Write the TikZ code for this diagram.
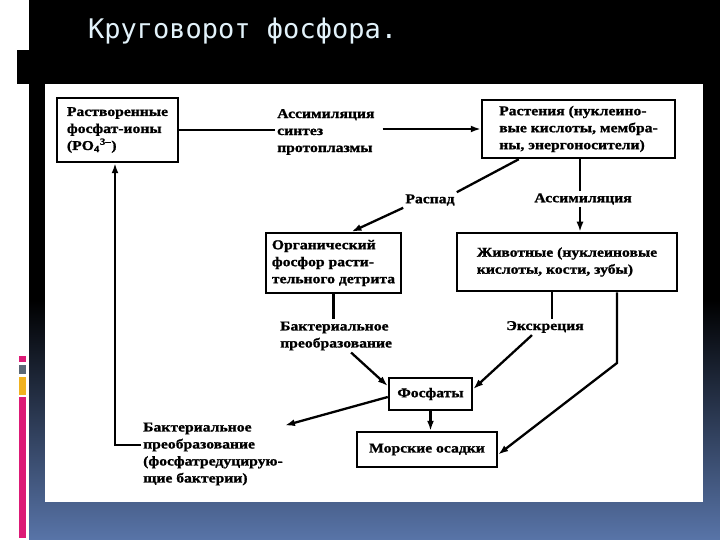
\documentclass[tikz,border=0pt]{standalone}
\usepackage{fontspec}
\usetikzlibrary{arrows.meta}
\newfontfamily\dfont[FakeStretch=1.16,FakeBold=1.2]{Liberation Serif}
\newfontfamily\tfont{DejaVu Sans Mono}
\definecolor{slideblue}{RGB}{88,116,168}
\definecolor{titlecol}{RGB}{226,242,250}
\definecolor{barpink}{RGB}{220,26,118}
\definecolor{bargray}{RGB}{90,104,118}
\definecolor{barorange}{RGB}{240,178,32}
\begin{document}
\begin{tikzpicture}[x=1pt,y=-1pt,
  box/.style={draw, line width=2.5pt, align=left, inner sep=2pt,
    font={\dfont\bfseries\fontsize{13.5}{17}\selectfont}},
  lbl/.style={align=left, inner sep=2pt,
    font={\dfont\bfseries\fontsize{13.5}{17}\selectfont}},
  conn/.style={line width=2.3pt},
  arr/.style={conn, -{Latex[length=10pt,width=7pt]}}]
\useasboundingbox (0,0) rectangle (720,540);
% slide background
\fill[black] (0,0) rectangle (720,540);
\shade[top color=black, bottom color=slideblue] (29,300) rectangle (720,540);
\fill[white] (0,0) rectangle (29,540);
\fill[black] (17,50) rectangle (29,84);
\fill[barpink] (19,356) rectangle (26,362);
\fill[bargray] (19,365) rectangle (26,374);
\fill[barorange] (19,377) rectangle (26,395);
\fill[barpink] (19,397) rectangle (26,538);
\node[anchor=base west, inner sep=0, text=titlecol, font={\tfont\fontsize{27}{32}\selectfont}] (title) at (88,39) {Круговорот фосфора.};
% scanned area
\fill[white] (45,84) rectangle (703,502);

% boxes
\node[box, minimum width=121pt, minimum height=64pt] (b1) at (117.5,130) {Растворенные\\фосфат-ионы\\(PO\textsubscript{4}\textsuperscript{3–})};
\node[box, minimum width=193pt, minimum height=58pt] (b2) at (578.5,129) {Растения (нуклеино-\\вые кислоты, мембра-\\ны, энергоносители)};
\node[box, minimum width=135pt, minimum height=60pt] (b3) at (333.5,263) {Органический\\фосфор расти-\\тельного детрита};
\node[box, minimum width=220pt, minimum height=58pt] (b4) at (567,262) {Животные (нуклеиновые\\кислоты, кости, зубы)};
\node[box, minimum width=83pt, minimum height=32pt] (b5) at (430.5,394) {Фосфаты};
\node[box, minimum width=140pt, minimum height=35pt] (b6) at (427,449.5) {Морские осадки};

% labels
\node[lbl, anchor=west] (la) at (275,132) {Ассимиляция\\синтез\\протоплазмы};
\node[lbl] (lrasp) at (430,200) {Распад};
\node[lbl] (lass2) at (583,199) {Ассимиляция};
\node[lbl, anchor=west] (lbak1) at (278,336) {Бактериальное\\преобразование};
\node[lbl] (lexk) at (545,327) {Экскреция};
\node[lbl, anchor=west] (lbak2) at (141,454) {Бактериальное\\преобразование\\(фосфатредуцирую-\\щие бактерии)};

\coordinate (vx) at (580,0);
\coordinate (ex) at (552,0);
\coordinate (rbend) at (617,363);
\coordinate (vl) at (115,0);

% connectors
\draw[conn] (b1.east) -- (b1.east -| la.west);
\draw[arr] ([xshift=6pt]la.east |- b2.west) -- (b2.west);
\draw[conn] ([xshift=38pt]b2.south west) -- (lrasp.north east);
\draw[arr] (lrasp.south west) -- ([xshift=18pt]b3.north);
\draw[conn] (b2.south -| vx) -- (lass2.north -| vx);
\draw[arr] (lass2.south -| vx) -- (b4.north -| vx);
\draw[conn] (b3.south) -- (b3.south |- lbak1.north);
\draw[arr] ([xshift=15pt]lbak1.south) -- ([yshift=8pt]b5.west);
\draw[conn] (b4.south -| ex) -- (lexk.north -| ex);
\draw[arr] ([xshift=-13pt]lexk.south) -- ([yshift=5pt]b5.east);
\draw[arr] (b4.south -| rbend) -- (rbend) -- ([yshift=-5pt]b6.east);
\draw[arr] (b5.south) -- (b5.south |- b6.north);
\draw[arr] ([yshift=-3pt]b5.west) -- ([yshift=-5pt]lbak2.north east);
\draw[arr] ([yshift=9pt]lbak2.west) -| (vl |- b1.south);
\end{tikzpicture}
\end{document}
